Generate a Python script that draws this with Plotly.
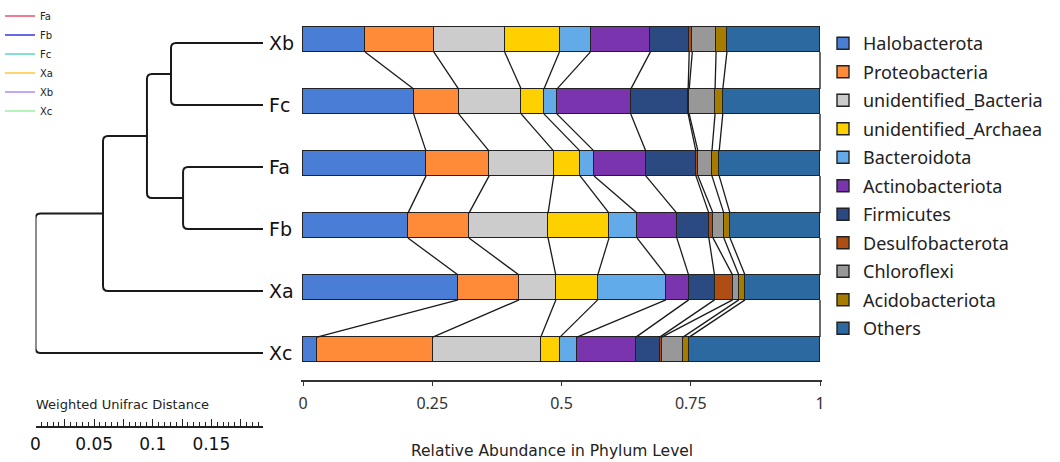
import plotly.graph_objects as go

# ---------------- data ----------------
samples = ["Xb", "Fc", "Fa", "Fb", "Xa", "Xc"]
phyla = ["Halobacterota", "Proteobacteria", "unidentified_Bacteria",
         "unidentified_Archaea", "Bacteroidota", "Actinobacteriota",
         "Firmicutes", "Desulfobacterota", "Chloroflexi",
         "Acidobacteriota", "Others"]
# relative abundance per phylum, in sample order [Xb, Fc, Fa, Fb, Xa, Xc]
halobacterota = [0.120, 0.214, 0.238, 0.203, 0.300, 0.027]
proteobacteria = [0.133, 0.087, 0.122, 0.118, 0.118, 0.224]
unidentified_bacteria = [0.137, 0.121, 0.125, 0.153, 0.071, 0.209]
unidentified_archaea = [0.106, 0.044, 0.051, 0.118, 0.081, 0.037]
bacteroidota = [0.060, 0.025, 0.027, 0.054, 0.132, 0.033]
actinobacteriota = [0.116, 0.143, 0.100, 0.077, 0.044, 0.114]
firmicutes = [0.075, 0.111, 0.097, 0.062, 0.050, 0.046]
desulfobacterota = [0.006, 0.002, 0.004, 0.008, 0.035, 0.004]
chloroflexi = [0.046, 0.050, 0.027, 0.021, 0.012, 0.041]
acidobacteriota = [0.021, 0.015, 0.014, 0.012, 0.012, 0.012]
others = [0.180, 0.188, 0.195, 0.174, 0.145, 0.253]
values = [halobacterota, proteobacteria, unidentified_bacteria,
          unidentified_archaea, bacteroidota, actinobacteriota, firmicutes,
          desulfobacterota, chloroflexi, acidobacteriota, others]
colors = ["#4A7ED6", "#FF8A38", "#CCCCCC", "#FFD000", "#63AAE8", "#7A35AE",
          "#2B4A82", "#AF4E12", "#989898", "#A67C00", "#2C69A0"]

# dendrogram (weighted UniFrac), position on the distance scale of each merge
merges = [("A", "Xb", "Fc", 0.1156),
          ("B", "Fa", "Fb", 0.1259),
          ("C", "A", "B", 0.0951),
          ("D", "C", "Xa", 0.0576),
          ("R", "D", "Xc", 0.0)]
leaf_pos = 0.1941
scale_ticks = [0, 0.025, 0.05, 0.075, 0.1, 0.125, 0.15, 0.175]
scale_labels = ["0", "", "0.05", "", "0.1", "", "0.15", ""]

group_names = ["Fa", "Fb", "Fc", "Xa", "Xb", "Xc"]
group_colors = ["#E8506E", "#3434E0", "#5CD6C6", "#FFC63C", "#AE8CF2", "#9EF2A0"]

x_ticks = [0, 0.25, 0.5, 0.75, 1]
x_tick_labels = ["0", "0.25", "0.5", "0.75", "1"]

# ---------------- figure ----------------
W, H = 1060, 462
fig = go.Figure()
ypos = list(range(len(samples)))
BAR_W = 0.4

for name, vals, col in zip(phyla, values, colors):
    fig.add_trace(go.Bar(
        y=ypos, x=vals, orientation="h", name=name, width=BAR_W,
        marker=dict(color=col, line=dict(color="#222222", width=1.4)),
        legendgroup=name, legend="legend", hoverinfo="skip"))

# connecting lines between cumulative boundaries of neighbouring bars
cum = []
for s in range(len(samples)):
    c, acc = [], 0.0
    for vals in values:
        acc += vals[s]
        c.append(acc)
    cum.append(c)
lx, ly = [], []
for s in range(len(samples) - 1):
    for k in range(len(phyla)):
        lx += [cum[s][k], cum[s + 1][k], None]
        ly += [s + BAR_W / 2, s + 1 - BAR_W / 2, None]
fig.add_trace(go.Scatter(x=lx, y=ly, mode="lines", showlegend=False,
                         line=dict(color="#1a1a1a", width=1.3),
                         hoverinfo="skip", cliponaxis=False))

# group colour legend (top-left)
for gname, gcol in zip(group_names, group_colors):
    fig.add_trace(go.Scatter(x=[None], y=[None], mode="lines", name=gname,
                             line=dict(color=gcol, width=1.5),
                             legend="legend2", xaxis="x2", yaxis="y2",
                             legendgroup="g" + gname))

# dendrogram paths
node_x, node_y = {}, {}
for i, s in enumerate(samples):
    node_x[s] = leaf_pos
    node_y[s] = i
rx, ry = 5 / 1172, 5 / 62
for nid, c1, c2, xn in merges:
    y1, y2 = node_y[c1], node_y[c2]
    x1, x2 = node_x[c1], node_x[c2]
    if y1 > y2:
        y1, y2, x1, x2 = y2, y1, x2, x1
    node_x[nid] = xn
    node_y[nid] = (y1 + y2) / 2
    path = (f"M{x1},{y1} L{xn + rx},{y1} Q{xn},{y1} {xn},{y1 + ry} "
            f"L{xn},{y2 - ry} Q{xn},{y2} {xn + rx},{y2} L{x2},{y2}")
    fig.add_shape(type="path", path=path, xref="x2", yref="y2",
                  line=dict(color="#1a1a1a", width=2))

# geometry (pixel based)
def px(x):
    return x / W

def py(y):
    return (H - y) / H

top_px, bot_px = 20, 380
bar_c0, step = 39.5, 62.0
den_c0 = 43.0
pad = 0.004
fig.update_layout(
    width=W, height=H, margin=dict(l=0, r=0, t=0, b=0, autoexpand=False),
    paper_bgcolor="white", plot_bgcolor="white",
    barmode="stack", bargap=0, hovermode=False,
    xaxis=dict(domain=[px(303 - 517 * pad), px(820 + 517 * pad)],
               range=[-pad, 1 + pad], anchor="y",
               showline=True, linecolor="#333333", linewidth=1.5,
               ticks="outside", ticklen=4, tickcolor="#333333",
               tickvals=x_ticks, ticktext=x_tick_labels, ticklabelstandoff=4,
               tickfont=dict(family="Noto Sans", size=16, color="#333333"),
               showgrid=False, zeroline=False),
    yaxis=dict(domain=[py(bot_px), py(top_px)],
               range=[(bot_px - bar_c0) / step, (top_px - bar_c0) / step],
               anchor="x", showticklabels=False, showgrid=False,
               zeroline=False, showline=False, ticks=""),
    xaxis2=dict(domain=[px(35.5), px(263)], range=[0, leaf_pos],
                anchor="free", position=py(427),
                showline=True, linecolor="#222222", linewidth=1.5,
                ticks="inside", ticklen=7, tickcolor="#222222", tickwidth=1.2,
                tickvals=scale_ticks, ticktext=scale_labels, ticklabelstandoff=2,
                tickfont=dict(family="DejaVu Sans", size=17, color="#111111"),
                minor=dict(dtick=0.005, ticks="inside", ticklen=4,
                           tickcolor="#222222", tickwidth=1),
                showgrid=False, zeroline=False),
    yaxis2=dict(domain=[py(bot_px), py(top_px)],
                range=[(bot_px - den_c0) / step, (top_px - den_c0) / step],
                anchor="x2", side="right",
                tickvals=ypos, ticktext=samples, ticks="", ticklabelstandoff=5,
                tickfont=dict(family="DejaVu Sans", size=19, color="#111111"),
                showgrid=False, zeroline=False, showline=False),
    legend=dict(x=px(823), y=py(25), xanchor="left", yanchor="top",
                traceorder="grouped", tracegroupgap=2.1,
                font=dict(family="Noto Sans", size=18, color="#222222"),
                bgcolor="rgba(0,0,0,0)", itemclick=False),
    legend2=dict(x=0, y=py(1.5), xanchor="left", yanchor="top",
                 traceorder="grouped", tracegroupgap=0,
                 font=dict(family="DejaVu Sans", size=10, color="#222222"),
                 bgcolor="rgba(0,0,0,0)", itemclick=False),
    annotations=[
        dict(text="Weighted Unifrac Distance", x=px(34), y=py(404),
             xref="paper", yref="paper", xanchor="left", yanchor="middle",
             showarrow=False,
             font=dict(family="DejaVu Sans", size=13, color="#222222")),
        dict(text="Relative Abundance in Phylum Level", x=px(552), y=py(451),
             xref="paper", yref="paper", xanchor="center", yanchor="middle",
             showarrow=False,
             font=dict(family="DejaVu Sans", size=15.5, color="#222222")),
    ],
)

fig.write_html("out.html")
